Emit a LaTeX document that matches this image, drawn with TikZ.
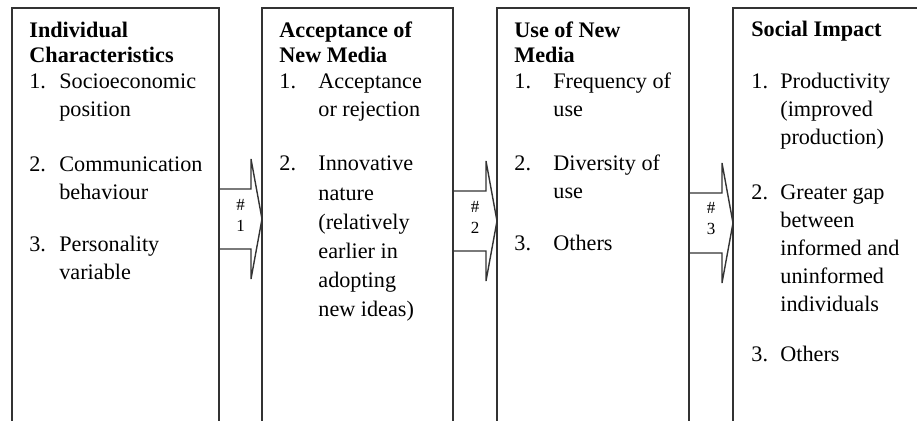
\documentclass[tikz,border=0pt]{standalone}
\usepackage{fontspec}
\setmainfont{Liberation Serif}
\usetikzlibrary{calc,positioning}

% number column of the lists
\newcommand{\itemno}[2]{\makebox[#1][l]{#2}}

\begin{document}
\begin{tikzpicture}[
    % general settings
    x=0.5pt, y=0.5pt,
    % boxes
    stage/.style={rectangle, draw=black!80, line width=0.7pt, minimum height=230pt, inner sep=0pt, outer sep=0pt, anchor=north west},
    content/.style={anchor=base west, inner sep=0pt, font=\fontsize{11.1}{14}\selectfont},
    % block arrows
    flow/.style={draw=black!80, line width=0.7pt, line join=miter},
    flowlabel/.style={inner sep=0pt, align=center, font=\fontsize{8.5}{10.5}\selectfont},
  ]

  \useasboundingbox (0,0) rectangle (917,-421);
  \clip (0,0) rectangle (917,-421);

  \node (indiv)  [stage, minimum width=103.5pt]                     at (12,-8) {};
  \node (accept) [stage, minimum width=95.5pt, right=21.5pt of indiv]          {};
  \node (usage)  [stage, minimum width=96pt,   right=22pt of accept]           {};
  \node (impact) [stage, minimum width=96pt,   right=22pt of usage]            {};

  \node (indiv-txt)  [content] at ($(indiv.north west)+(17,-30)$)  {\parbox[t]{110pt}{\textbf{Individual}\\[-1.5pt]
                                                                    \textbf{Characteristics}\\[-1pt]
                                                                    \itemno{15pt}{1.}Socioeconomic\\
                                                                    \itemno{15pt}{}position\\[13.5pt]
                                                                    \itemno{15pt}{2.}Communication\\
                                                                    \itemno{15pt}{}behaviour\\[12pt]
                                                                    \itemno{15pt}{3.}Personality\\
                                                                    \itemno{15pt}{}variable}};

  \node (accept-txt) [content] at ($(accept.north west)+(17,-30)$) {\parbox[t]{110pt}{\textbf{Acceptance of}\\[-1.5pt]
                                                                    \textbf{New Media}\\[-1pt]
                                                                    \itemno{19.5pt}{1.}Acceptance\\
                                                                    \itemno{19.5pt}{}or rejection\\[13pt]
                                                                    \itemno{19.5pt}{2.}Innovative\\[0.6pt]
                                                                    \itemno{19.5pt}{}nature\\[0.6pt]
                                                                    \itemno{19.5pt}{}(relatively\\[0.6pt]
                                                                    \itemno{19.5pt}{}earlier in\\[0.6pt]
                                                                    \itemno{19.5pt}{}adopting\\[0.6pt]
                                                                    \itemno{19.5pt}{}new ideas)}};

  \node (usage-txt)  [content] at ($(usage.north west)+(17,-30)$)  {\parbox[t]{110pt}{\textbf{Use of New}\\[-1.5pt]
                                                                    \textbf{Media}\\[-1pt]
                                                                    \itemno{19.5pt}{1.}Frequency of\\
                                                                    \itemno{19.5pt}{}use\\[13pt]
                                                                    \itemno{19.5pt}{2.}Diversity of\\
                                                                    \itemno{19.5pt}{}use\\[12pt]
                                                                    \itemno{19.5pt}{3.}Others}};

  \node (impact-txt) [content] at ($(impact.north west)+(18,-29)$) {\parbox[t]{110pt}{\textbf{Social Impact}\\[12pt]
                                                                    \itemno{14.5pt}{1.}Productivity\\
                                                                    \itemno{14.5pt}{}(improved\\
                                                                    \itemno{14.5pt}{}production)\\[13.5pt]
                                                                    \itemno{14.5pt}{2.}Greater gap\\
                                                                    \itemno{14.5pt}{}between\\
                                                                    \itemno{14.5pt}{}informed and\\
                                                                    \itemno{14.5pt}{}uninformed\\
                                                                    \itemno{14.5pt}{}individuals\\[11pt]
                                                                    \itemno{14.5pt}{3.}Others}};

  % arrow #1
  \draw[flow] ($(indiv.north east)+(0,-181)$) -- ($(accept.north west)+(-11,-181)$) -- ++(0,30)
              -- ($(accept.north west)+(0,-211)$) -- ($(accept.north west)+(-11,-271)$) -- ++(0,30)
              -- ($(indiv.north east)+(0,-241)$);
  \node (step1) [flowlabel] at ($(indiv.north east)!0.5!(accept.north west)+(0,-207.5)$) {\#\\1};

  % arrow #2
  \draw[flow] ($(accept.north east)+(0,-183)$) -- ($(usage.north west)+(-11,-183)$) -- ++(0,30)
              -- ($(usage.north west)+(0,-213)$) -- ($(usage.north west)+(-11,-273)$) -- ++(0,30)
              -- ($(accept.north east)+(0,-243)$);
  \node (step2) [flowlabel] at ($(accept.north east)!0.5!(usage.north west)+(0,-209)$) {\#\\2};

  % arrow #3
  \draw[flow] ($(usage.north east)+(0,-185)$) -- ($(impact.north west)+(-11,-185)$) -- ++(0,30)
              -- ($(impact.north west)+(0,-215)$) -- ($(impact.north west)+(-11,-275)$) -- ++(0,30)
              -- ($(usage.north east)+(0,-245)$);
  \node (step3) [flowlabel] at ($(usage.north east)!0.5!(impact.north west)+(0,-211)$) {\#\\3};

\end{tikzpicture}
\end{document}
